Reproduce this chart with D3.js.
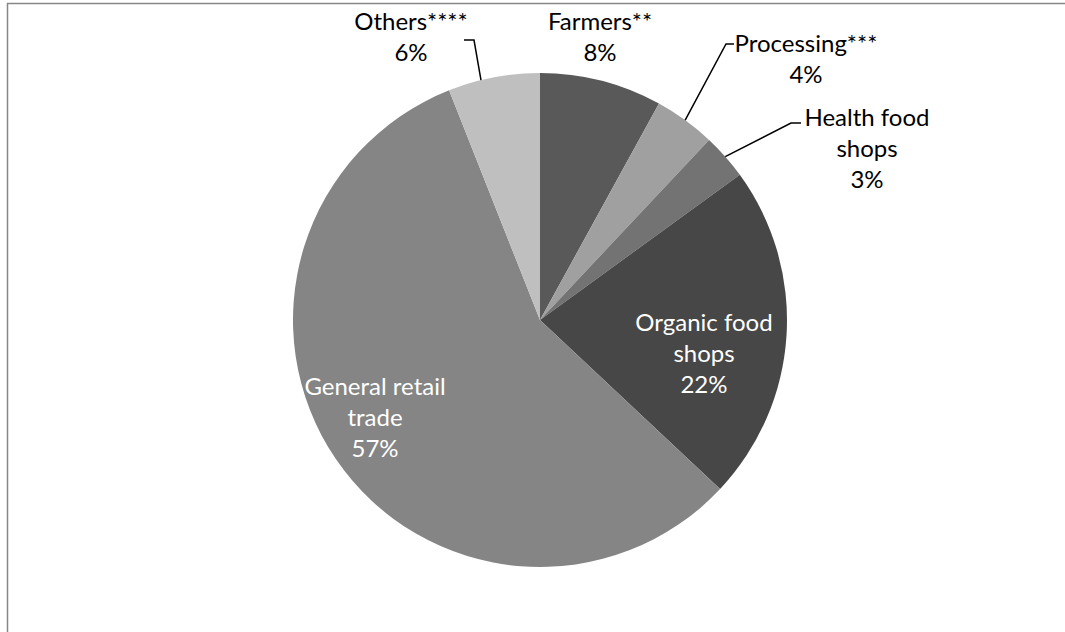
<!DOCTYPE html>
<html>
<head>
<meta charset="utf-8">
<script src="https://cdn.jsdelivr.net/npm/d3@7"></script>
<style>
  html, body { margin: 0; padding: 0; background: #fff; }
  svg { display: block; }
  text { font-family: Lato, "Open Sans", sans-serif; }
</style>
</head>
<body>
<svg id="chart" width="1065" height="632"></svg>
<script>
// Sales channels: share of turnover (%)
const categories = ["Farmers**", "Processing***", "Health food shops", "Organic food shops", "General retail trade", "Others****"];
const values = [8, 4, 3, 22, 57, 6];
// Label text, one entry per line
const labelLines = [
  ["Farmers**", "8%"],
  ["Processing***", "4%"],
  ["Health food", "shops", "3%"],
  ["Organic food", "shops", "22%"],
  ["General retail", "trade", "57%"],
  ["Others****", "6%"]
];

const fills = ["#595959", "#a0a0a0", "#737373", "#474747", "#858585", "#bfbfbf"];
const textFill = ["#000", "#000", "#000", "#fff", "#fff", "#000"];

// Label placement relative to the pie centre: x of text centre, y of first line centre.
// Leader: elbow point (relative to centre), stub end x, and where along the slice arc it meets the edge (0..1).
const labelLayout = [
  { x: 60,   y: -298, leader: null },
  { x: 266,  y: -276, leader: { ex: 186, ey: -276, sx: 194, t: 0.5 } },
  { x: 327,  y: -202, leader: { ex: 251, ey: -197, sx: 261, t: 0.5 } },
  { x: 164,  y: 3,    leader: null },
  { x: -165, y: 67,   leader: null },
  { x: -129, y: -298, leader: { ex: -66, ey: -280, sx: -76, t: 0.36 } }
];

const cx = 540, cy = 320, radius = 247;
const lineStep = 31;

const svg = d3.select("#chart");

// Chart area frame (runs off the right and bottom of the view)
svg.append("rect")
  .attr("x", 7.5).attr("y", 3.5)
  .attr("width", 1200).attr("height", 800)
  .attr("fill", "none")
  .attr("stroke", "#878787")
  .attr("stroke-width", 1.5);

const pie = d3.pie().sort(null).value(d => d)(values);
const arc = d3.arc().innerRadius(0).outerRadius(radius);

const g = svg.append("g").attr("transform", `translate(${cx},${cy})`);

g.selectAll("path.slice")
  .data(pie)
  .join("path")
  .attr("class", "slice")
  .attr("d", arc)
  .attr("fill", (d, i) => fills[i]);

// Leader lines
pie.forEach((d, i) => {
  const L = labelLayout[i].leader;
  if (!L) return;
  const a = d.startAngle + (d.endAngle - d.startAngle) * L.t;
  const px = radius * Math.sin(a), py = -radius * Math.cos(a);
  g.append("polyline")
    .attr("points", `${L.sx},${L.ey} ${L.ex},${L.ey} ${px},${py}`)
    .attr("fill", "none")
    .attr("stroke", "#000")
    .attr("stroke-width", 1.5);
});

// Labels
categories.forEach((c, i) => {
  const pos = labelLayout[i];
  const t = g.append("text")
    .attr("text-anchor", "middle")
    .attr("font-size", 24)
    .attr("fill", textFill[i]);
  labelLines[i].forEach((line, k) => {
    t.append("tspan")
      .attr("x", pos.x)
      .attr("y", pos.y + k * lineStep)
      .attr("dy", "0.35em")
      .text(line);
  });
});
</script>
</body>
</html>
